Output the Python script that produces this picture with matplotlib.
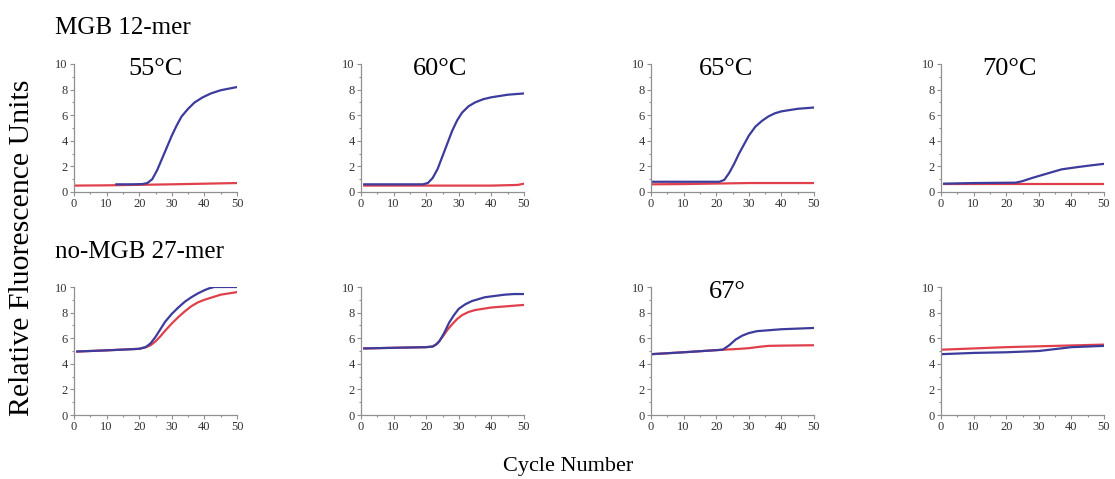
import numpy as np
import matplotlib
matplotlib.use('Agg')
import matplotlib.pyplot as plt
from matplotlib.ticker import MultipleLocator

plt.rcParams['font.family'] = ['Liberation Serif', 'DejaVu Serif']

BLUE = '#3c3c9c'
RED = '#e0404c'

# top row: MGB 12-mer (55, 60, 65, 70 C)
t55_bx = [13, 18, 21, 22.5, 24, 25.5, 27, 28.5, 30, 31.5, 33, 35, 37, 39.5, 42, 45, 48, 50]
t55_by = [0.6, 0.6, 0.62, 0.7, 1.0, 1.7, 2.6, 3.5, 4.4, 5.2, 5.9, 6.5, 7.0, 7.4, 7.7, 7.95, 8.1, 8.2]
t55_rx = [0, 10, 20, 30, 40, 50]
t55_ry = [0.5, 0.52, 0.56, 0.6, 0.65, 0.7]

t60_bx = [1, 10, 19, 20.5, 22, 23.5, 25, 26.5, 28, 29.5, 31, 33, 35, 37.5, 40, 45, 50]
t60_by = [0.6, 0.6, 0.6, 0.7, 1.1, 1.8, 2.8, 3.8, 4.8, 5.6, 6.2, 6.7, 7.0, 7.25, 7.4, 7.6, 7.7]
t60_rx = [1, 10, 20, 30, 40, 48, 50]
t60_ry = [0.5, 0.5, 0.5, 0.5, 0.5, 0.55, 0.65]

t65_bx = [0, 10, 21, 22.5, 24, 25.5, 27, 28.5, 30, 32, 34, 36, 38, 40, 45, 50]
t65_by = [0.8, 0.8, 0.8, 0.95, 1.5, 2.2, 3.0, 3.7, 4.4, 5.1, 5.55, 5.9, 6.15, 6.3, 6.5, 6.6]
t65_rx = [0, 10, 20, 30, 40, 50]
t65_ry = [0.6, 0.62, 0.66, 0.7, 0.7, 0.7]

t70_bx = [1, 10, 23, 25, 28, 32, 37, 42, 46, 50]
t70_by = [0.65, 0.7, 0.73, 0.85, 1.1, 1.4, 1.77, 1.95, 2.08, 2.2]
t70_rx = [1, 10, 20, 30, 40, 50]
t70_ry = [0.65, 0.65, 0.65, 0.65, 0.65, 0.65]

# bottom row: no-MGB 27-mer
b55_bx = [1, 10, 20, 22, 23.5, 25, 26.5, 28, 30, 32, 34, 36, 38, 40, 41.5, 43, 46, 50]
b55_by = [4.96, 5.05, 5.17, 5.3, 5.6, 6.1, 6.7, 7.3, 7.9, 8.4, 8.85, 9.2, 9.5, 9.75, 9.9, 10.0, 10.0, 10.0]
b55_rx = [1, 10, 20, 22, 23.5, 25, 26.5, 28, 30, 32, 34, 36, 38, 40, 42.5, 45, 47.5, 50]
b55_ry = [4.96, 5.05, 5.17, 5.3, 5.45, 5.75, 6.15, 6.6, 7.15, 7.65, 8.1, 8.5, 8.8, 9.0, 9.2, 9.4, 9.5, 9.6]

b60_bx = [1, 10, 20, 22, 23, 24, 25.5, 27, 28.5, 30, 32, 34, 36, 38, 41, 44, 47, 50]
b60_by = [5.2, 5.25, 5.3, 5.35, 5.5, 5.75, 6.4, 7.2, 7.8, 8.3, 8.65, 8.9, 9.05, 9.2, 9.3, 9.4, 9.45, 9.45]
b60_rx = [1, 10, 20, 22, 23.5, 25, 26.5, 28, 29.5, 31, 33, 35, 37.5, 40, 45, 50]
b60_ry = [5.2, 5.25, 5.3, 5.35, 5.6, 6.1, 6.65, 7.1, 7.5, 7.8, 8.05, 8.2, 8.3, 8.4, 8.5, 8.6]

b67_bx = [0, 10, 22, 24, 26, 28, 30, 32.5, 35, 40, 45, 50]
b67_by = [4.75, 4.9, 5.1, 5.45, 5.9, 6.2, 6.4, 6.55, 6.6, 6.7, 6.75, 6.8]
b67_rx = [0, 10, 22, 26, 30, 33, 36, 40, 50]
b67_ry = [4.75, 4.9, 5.1, 5.15, 5.22, 5.32, 5.4, 5.42, 5.45]

b70_bx = [0, 10, 20, 30, 40, 50]
b70_by = [4.75, 4.85, 4.9, 5.0, 5.3, 5.4]
b70_rx = [0, 10, 20, 35, 50]
b70_ry = [5.1, 5.2, 5.3, 5.4, 5.5]

top_titles = ['55°C', '60°C', '65°C', '70°C']
bottom_titles = ['', '', '67°', '']

top = [(t55_bx, t55_by, t55_rx, t55_ry), (t60_bx, t60_by, t60_rx, t60_ry),
       (t65_bx, t65_by, t65_rx, t65_ry), (t70_bx, t70_by, t70_rx, t70_ry)]
bottom = [(b55_bx, b55_by, b55_rx, b55_ry), (b60_bx, b60_by, b60_rx, b60_ry),
          (b67_bx, b67_by, b67_rx, b67_ry), (b70_bx, b70_by, b70_rx, b70_ry)]

W, H = 1115, 479
fig = plt.figure(figsize=(W / 100, H / 100), dpi=100)

lefts = [74, 361, 651, 941]
aw, ah = 163, 128
row_bottoms = [192, 415]

def panel(px, pybot, data, title, tx):
    ax = fig.add_axes([px / W, 1 - pybot / H, aw / W, ah / H])
    bx, by, rx, ry = data
    ax.plot(rx, ry, color=RED, lw=1.6)
    ax.plot(bx, by, color=BLUE, lw=1.6)
    ax.set_xlim(0, 50)
    ax.set_ylim(0, 10)
    ax.xaxis.set_major_locator(MultipleLocator(10))
    ax.xaxis.set_minor_locator(MultipleLocator(5))
    ax.yaxis.set_major_locator(MultipleLocator(2))
    ax.yaxis.set_minor_locator(MultipleLocator(1))
    for s in ['top', 'right']:
        ax.spines[s].set_visible(False)
    for s in ['left', 'bottom']:
        ax.spines[s].set_color('#909090')
        ax.spines[s].set_linewidth(0.9)
    ax.tick_params(which='both', direction='out', color='#909090', width=0.8,
                   labelsize=9, labelcolor='#333333', pad=1.5)
    ax.tick_params(which='major', length=3)
    ax.tick_params(which='minor', length=1.5)
    if title:
        fig.text(tx / W, 1 - (pybot - ah + 5) / H, title, fontsize=19,
                 ha='center', va='center')
    return ax

top_tx = [156, 440, 726, 1010]
for i in range(4):
    panel(lefts[i], row_bottoms[0], top[i], top_titles[i], top_tx[i])
for i in range(4):
    panel(lefts[i], row_bottoms[1], bottom[i], bottom_titles[i], 727)

fig.text(55 / W, 1 - 28 / H, 'MGB 12-mer', fontsize=18, ha='left', va='center')
fig.text(55 / W, 1 - 252 / H, 'no-MGB 27-mer', fontsize=18, ha='left', va='center')
fig.text(22 / W, 1 - 248 / H, 'Relative Fluorescence Units', fontsize=21.5,
         rotation=90, ha='center', va='center')
fig.text(568 / W, 1 - 466 / H, 'Cycle Number', fontsize=16, ha='center', va='center')

fig.savefig('out.png', dpi=100)
